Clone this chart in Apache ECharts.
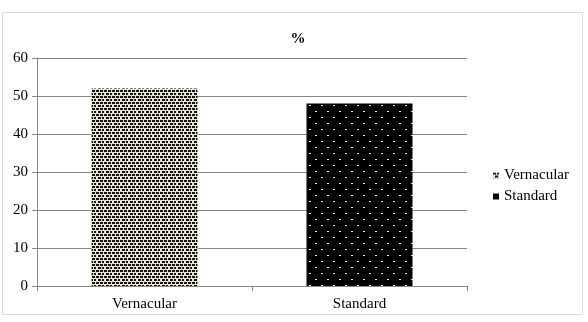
<!DOCTYPE html>
<html>
<head>
<meta charset="utf-8">
<script src="https://cdn.jsdelivr.net/npm/echarts@6/dist/echarts.min.js"></script>
<style>
  html, body { margin: 0; padding: 0; background: #fff; }
  #chart { width: 588px; height: 322px; }
</style>
</head>
<body>
<div id="chart"></div>
<script>
const categories = ["Vernacular", "Standard"];
const values = [52, 48];
const yTicks = [0, 10, 20, 30, 40, 50, 60];

// tile patterns for the two bars
function checkerTile() {
  const c = document.createElement("canvas");
  c.width = 8; c.height = 6;
  const ctx = c.getContext("2d");
  ctx.fillStyle = "#e6e2d2";
  ctx.fillRect(0, 0, 8, 6);
  ctx.fillStyle = "#151515";
  ctx.fillRect(0, 0, 3, 2);
  ctx.fillRect(4, 0, 3, 2);
  ctx.fillRect(2, 3, 3, 2);
  ctx.fillRect(6, 3, 2, 2);
  return c;
}
function dotTile() {
  const c = document.createElement("canvas");
  c.width = 12; c.height = 12;
  const ctx = c.getContext("2d");
  ctx.fillStyle = "#000";
  ctx.fillRect(0, 0, 12, 12);
  ctx.fillStyle = "#eee";
  ctx.fillRect(3, 3, 2, 1);
  ctx.fillRect(9, 9, 2, 1);
  return c;
}

const fills = [
  { image: checkerTile(), repeat: "repeat" },
  { image: dotTile(), repeat: "repeat" },
];

const chart = echarts.init(document.getElementById("chart"));

const option = {
  animation: false,
  textStyle: { fontFamily: "Liberation Serif" },
  title: {
    text: "%",
    left: 293,
    top: 27,
    textAlign: "center",
    textStyle: { fontFamily: "Liberation Serif", fontSize: 15, fontWeight: "bold", color: "#000" },
  },
  graphic: [
    {
      type: "rect",
      shape: { x: 2.5, y: 12.5, width: 580, height: 302 },
      style: { fill: "none", stroke: "#d9d9d9", lineWidth: 1 },
      silent: true,
    },
  ],
  legend: {
    orient: "vertical",
    left: 488,
    top: 163,
    itemWidth: 6,
    itemHeight: 6,
    itemGap: 6,
    icon: "rect",
    textStyle: { fontFamily: "Liberation Serif", fontSize: 15, color: "#000" },
    data: categories.map((name, i) => ({
      name,
      itemStyle: { color: i === 0 ? fills[0] : "#000", borderWidth: 0 },
    })),
  },
  grid: { left: 37, right: 121, top: 58, bottom: 36 },
  xAxis: {
    type: "category",
    data: categories,
    axisLine: { lineStyle: { color: "#888" } },
    axisTick: { show: true, alignWithLabel: false, length: 5, lineStyle: { color: "#888" } },
    axisLabel: { fontFamily: "Liberation Serif", fontSize: 15, color: "#000", margin: 11 },
  },
  yAxis: {
    type: "value",
    min: yTicks[0],
    max: yTicks[yTicks.length - 1],
    interval: 10,
    axisLine: { show: true, lineStyle: { color: "#888" } },
    axisTick: { show: true, length: 5, lineStyle: { color: "#888" } },
    axisLabel: { fontFamily: "Liberation Serif", fontSize: 15, color: "#000", margin: 9 },
    splitLine: { lineStyle: { color: "#888" } },
  },
  series: categories.map((name, i) => ({
    name,
    type: "bar",
    stack: "all",
    barWidth: 106,
    data: categories.map((c, j) => (j === i ? values[i] : "-")),
    itemStyle: { color: fills[i] },
  })),
};

chart.setOption(option);
</script>
</body>
</html>
